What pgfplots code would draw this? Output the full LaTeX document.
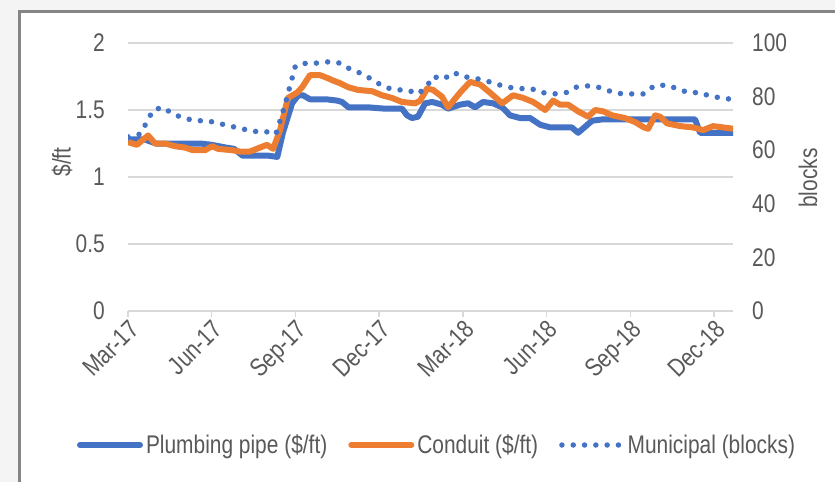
\documentclass[border=0pt]{standalone}
\usepackage{fontspec}
\setmainfont{Liberation Sans}[FakeStretch=0.82]
\usepackage{pgfplots}
\pgfplotsset{compat=1.18}
\definecolor{cblue}{HTML}{4472C4}
\definecolor{corange}{HTML}{ED7D31}
\definecolor{cgrid}{HTML}{D9D9D9}
\definecolor{ctext}{HTML}{595959}
\definecolor{cframe}{HTML}{858585}
\definecolor{cbg}{HTML}{F4F4F4}
\newcommand{\bigf}{\fontsize{25.5}{29}\selectfont}
\begin{document}
\begin{tikzpicture}
\path[use as bounding box] (0pt,0pt) rectangle (835pt,-482pt);
\fill[cbg] (0pt,0pt) rectangle (835pt,-482pt);
\fill[white] (19pt,-11pt) rectangle (835pt,-482pt);
\draw[cframe, line width=3pt] (19pt,-482pt) -- (19pt,-11pt) -- (835pt,-11pt);
\begin{axis}[
  at={(128pt,-311pt)}, anchor=south west,
  width=605pt, height=268pt, scale only axis,
  xmin=0, xmax=21.68, ymin=0, ymax=2,
  axis line style={draw=none},
  ytick={0,0.5,1,1.5,2},
  xtick={0,3,6,9,12,15,18,21},
  xticklabels={Mar-17,Jun-17,Sep-17,Dec-17,Mar-18,Jun-18,Sep-18,Dec-18},
  tick pos=left, tick align=outside,
  major tick length=6pt,
  xtick style={cgrid, line width=1.5pt},
  ytick style={draw=none},
  ymajorgrids, grid style={cgrid, line width=1.5pt},
  /pgf/number format/assume math mode=true,
  tick label style={font=\bigf, text=ctext},
  yticklabel style={inner sep=0pt, xshift=-17pt},
  xticklabel style={rotate=45, anchor=north east, inner sep=1pt},
  ylabel={\$/ft},
  every axis y label/.style={at={(axis description cs:-0.109,0.556)}, rotate=90, anchor=center, font=\bigf, text=ctext},
  line join=round,
]
\addplot[cblue, line width=6pt] coordinates {
(0,1.28) (0.6,1.28) (1.0,1.25) (1.5,1.25) (2.0,1.25) (2.6,1.25) (3.0,1.24) (3.5,1.22) (3.8,1.21)
(4.1,1.16) (4.6,1.16) (5.0,1.16) (5.35,1.15) (5.55,1.33) (5.88,1.55) (6.1,1.61) (6.27,1.61)
(6.52,1.58) (7.1,1.58) (7.5,1.57) (7.67,1.56) (7.9,1.52) (8.6,1.52) (9.2,1.51) (9.82,1.51)
(10.0,1.46) (10.18,1.44) (10.39,1.45) (10.65,1.55) (10.9,1.56) (11.25,1.54) (11.47,1.51)
(11.9,1.54) (12.19,1.55) (12.44,1.52) (12.72,1.56) (13.08,1.55) (13.41,1.52) (13.69,1.46)
(14.05,1.44) (14.41,1.44) (14.77,1.39) (15.13,1.37) (15.9,1.37) (16.13,1.33) (16.63,1.42)
(17.0,1.43) (18.0,1.43) (19.0,1.43) (20.0,1.43) (20.32,1.43) (20.5,1.33) (21.0,1.33) (21.68,1.33)
};
\addplot[corange, line width=6pt] coordinates {
(0,1.26) (0.32,1.24) (0.72,1.31) (0.97,1.25) (1.33,1.25) (1.68,1.23) (2.04,1.22) (2.33,1.20)
(2.76,1.20) (3.01,1.23) (3.23,1.21) (3.73,1.20) (4.01,1.19) (4.37,1.19) (4.73,1.22) (4.98,1.24)
(5.2,1.21) (5.45,1.35) (5.73,1.59) (6.06,1.63) (6.24,1.67) (6.52,1.76) (6.88,1.76) (7.13,1.74)
(7.35,1.72) (7.6,1.70) (7.89,1.67) (8.24,1.65) (8.75,1.64) (9.1,1.61) (9.46,1.59) (9.82,1.56)
(10.29,1.55) (10.47,1.57) (10.72,1.66) (10.93,1.65) (11.25,1.60) (11.47,1.52) (11.9,1.63)
(12.26,1.71) (12.62,1.69) (12.97,1.63) (13.41,1.55) (13.8,1.61) (14.16,1.59) (14.52,1.56)
(14.95,1.50) (15.23,1.57) (15.48,1.54) (15.77,1.54) (16.13,1.49) (16.49,1.45) (16.74,1.50)
(17.03,1.49) (17.35,1.46) (17.81,1.44) (18.17,1.41) (18.49,1.37) (18.64,1.36) (18.89,1.46)
(19.07,1.45) (19.32,1.40) (19.78,1.38) (20.25,1.37) (20.61,1.35) (20.97,1.38) (21.68,1.36)
};
\end{axis}
\begin{axis}[
  at={(128pt,-311pt)}, anchor=south west,
  width=605pt, height=268pt, scale only axis,
  xmin=0, xmax=21.68, ymin=0, ymax=100,
  hide x axis,
  axis y line*=right,
  y axis line style={draw=none},
  ytick={0,20,40,60,80,100},
  ytick style={draw=none},
  /pgf/number format/assume math mode=true,
  tick label style={font=\bigf, text=ctext},
  yticklabel style={inner sep=0pt, xshift=19pt, anchor=west},
  ylabel={blocks},
  every axis y label/.style={at={(axis description cs:1.124,0.496)}, rotate=90, anchor=center, font=\bigf, text=ctext},
  line join=round,
  legend columns=3,
  legend style={at={(axis description cs:0.5116,-0.5)}, anchor=center, draw=none, fill=none,
    font=\bigf, text=ctext, inner sep=0pt,
    nodes={inner sep=3pt},
    /tikz/every even column/.append style={column sep=18pt}},
  legend image code/.code={\draw[#1, line cap=round] (0pt,0pt) -- (60pt,0pt);},
]
\addlegendimage{cblue, line width=6pt}
\addlegendentry{Plumbing pipe (\$/ft)}
\addlegendimage{corange, line width=6pt}
\addlegendentry{Conduit (\$/ft)}
\addplot[cblue, line width=5.5pt, line cap=round, dash pattern=on 0pt off 11.3pt] coordinates {
(0,65) (0.43,66) (0.65,70) (0.9,75) (1.25,76) (1.61,73.5) (2.0,72) (2.4,71) (2.83,71) (3.26,70)
(3.66,69) (4.09,68) (4.48,67) (4.91,67) (5.3,66) (5.6,76) (6.0,91.5) (6.4,92.5) (6.8,92.5)
(7.2,93) (7.6,92.5) (8.0,90) (8.4,88.5) (8.8,86) (9.2,83.5) (9.6,82.5) (10.0,82.5) (10.4,81)
(10.72,84) (10.93,87.5) (11.3,86.5) (11.68,89) (11.97,87.5) (12.37,87) (12.8,86) (13.19,84.7)
(13.62,83.5) (14.01,83) (14.44,83) (14.84,81.5) (15.27,81) (15.7,81.5) (16.06,83.5) (16.45,84)
(16.85,83.5) (17.28,82) (17.71,81) (18.1,81) (18.49,81) (18.85,84) (19.28,84.3) (19.68,83)
(20.07,81.5) (20.5,81.5) (20.9,80) (21.33,79.5) (21.6,79)
};
\addlegendentry{Municipal (blocks)}
\end{axis}
\end{tikzpicture}
\end{document}
